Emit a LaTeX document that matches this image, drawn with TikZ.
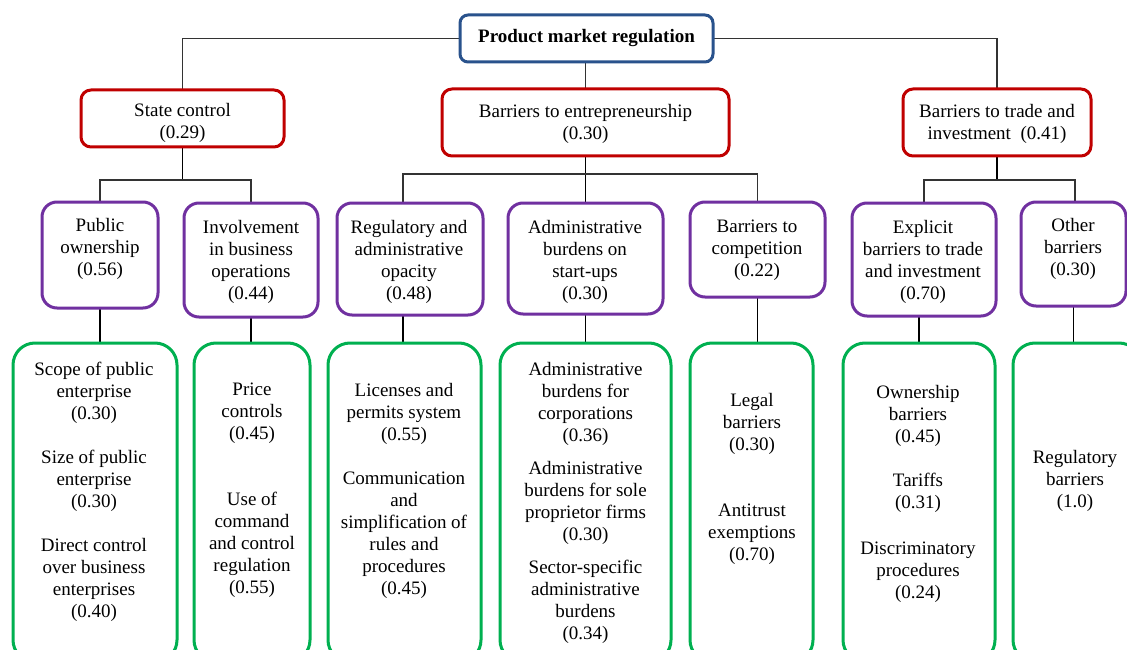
\documentclass[tikz,border=0pt]{standalone}
\usepackage{fontspec}
\setmainfont{Liberation Serif}
\usetikzlibrary{calc,backgrounds}
\definecolor{rootblue}{RGB}{41,82,140}
\definecolor{lvlred}{RGB}{192,0,0}
\definecolor{lvlpurple}{RGB}{112,48,160}
\definecolor{lvlgreen}{RGB}{0,176,80}

\begin{document}
\begin{tikzpicture}[x=1pt,y=-1pt,
  box/.style={draw, line width=3pt, fill=white, inner sep=0pt, outer sep=0pt},
  rootbox/.style={box, draw=rootblue, rounded corners=8pt},
  redbox/.style={box, draw=lvlred, rounded corners=10pt},
  purplebox/.style={box, draw=lvlpurple, rounded corners=15pt},
  greenbox/.style={box, draw=lvlgreen, rounded corners=22pt},
  lbl/.style={anchor=north, align=center, inner sep=0pt, font=\fontsize{19}{22}\selectfont},
  conn/.style={line width=1.2pt, draw=black!80},
  drop/.style={line width=1.8pt, draw=black},
]
\useasboundingbox (0,0) rectangle (1127,650);
\clip (0,0) rectangle (1127,650);

% root
\node[rootbox, minimum width=253pt, minimum height=47pt,
      font=\fontsize{19}{22}\selectfont\bfseries] (root) at (586.5,38.5) {Product market regulation};

% first level
\node[redbox, minimum width=203pt, minimum height=57pt] (state) at (182.5,118.5) {};
\node[redbox, minimum width=287pt, minimum height=67pt] (entr)  at (585.5,122.5) {};
\node[redbox, minimum width=188pt, minimum height=67pt] (trade) at (997,122.5) {};
\node[lbl] (stateT) at (182.5,101) {\strut State control\\(0.29)};
\node[lbl] (entrT)  at (585.5,102) {\strut Barriers to entrepreneurship\\(0.30)};
\node[lbl] (tradeT) at (997,102)   {\strut Barriers to trade and\\investment\enspace(0.41)};

% second level
\node[purplebox, minimum width=116pt, minimum height=106pt] (po)   at (100,255) {};
\node[purplebox, minimum width=134pt, minimum height=114pt] (inv)  at (251,260) {};
\node[purplebox, minimum width=146pt, minimum height=112pt] (reg)  at (410,259) {};
\node[purplebox, minimum width=155pt, minimum height=111pt] (adm)  at (585.5,258.5) {};
\node[purplebox, minimum width=135pt, minimum height=95pt]  (comp) at (757.5,249.5) {};
\node[purplebox, minimum width=144pt, minimum height=113pt] (ex)   at (924,259.5) {};
\node[purplebox, minimum width=105pt, minimum height=104pt] (oth)  at (1073.5,254) {};
\node[lbl] (poT)   at (100,216)  {\strut Public\\ownership\\(0.56)};
\node[lbl] (invT)  at (251,218)  {\strut Involvement\\in business\\operations\\(0.44)};
\node[lbl] (regT)  at (409,218)  {\strut Regulatory and\\administrative\\opacity\\(0.48)};
\node[lbl] (admT)  at (585,218)  {\strut Administrative\\burdens on\\start-ups\\(0.30)};
\node[lbl] (compT) at (757,217)  {\strut Barriers to\\competition\\(0.22)};
\node[lbl] (exT)   at (923,218)  {\strut Explicit\\barriers to trade\\and investment\\(0.70)};
\node[lbl] (othT)  at (1073,216) {\strut Other\\barriers\\(0.30)};

% third level
\node[greenbox, minimum width=164pt, minimum height=319pt] (g1) at (95,502.5) {};
\node[greenbox, minimum width=116pt, minimum height=319pt] (g2) at (252,502.5) {};
\node[greenbox, minimum width=153pt, minimum height=319pt] (g3) at (404.5,502.5) {};
\node[greenbox, minimum width=171pt, minimum height=319pt] (g4) at (585.5,502.5) {};
\node[greenbox, minimum width=123pt, minimum height=319pt] (g5) at (751.5,502.5) {};
\node[greenbox, minimum width=152pt, minimum height=319pt] (g6) at (919,502.5) {};
\node[greenbox, minimum width=128pt, minimum height=319pt] (g7) at (1077,502.5) {};
\node[lbl] (g1T) at (94,360) {\strut Scope of public\\enterprise\\(0.30)\\[22pt]Size of public\\enterprise\\(0.30)\\[22pt]Direct control\\over business\\enterprises\\(0.40)};
\node[lbl] (g2T) at (252,380) {\strut Price\\controls\\(0.45)\\[44pt]Use of\\command\\and control\\regulation\\(0.55)};
\node[lbl] (g3T) at (404,381) {\strut Licenses and\\permits system\\(0.55)\\[22pt]Communication\\and\\simplification of\\rules and\\procedures\\(0.45)};
\node[lbl] (g4T) at (585.5,360) {\strut Administrative\\burdens for\\corporations\\(0.36)\\[11pt]Administrative\\burdens for sole\\proprietor firms\\(0.30)\\[11pt]Sector-specific\\administrative\\burdens\\(0.34)};
\node[lbl] (g5T) at (752,391) {\strut Legal\\barriers\\(0.30)\\[44pt]Antitrust\\exemptions\\(0.70)};
\node[lbl] (g6T) at (918,383) {\strut Ownership\\barriers\\(0.45)\\[22pt]Tariffs\\(0.31)\\[24pt]Discriminatory\\procedures\\(0.24)};
\node[lbl] (g7T) at (1075,448) {\strut Regulatory\\barriers\\(1.0)};

% connectors, kept behind the boxes
\begin{scope}[on background layer]
  \fill[white] (0,0) rectangle (1127,650);
  % root to first level
  \draw[conn] (root.west) -| (state.north);
  \draw[conn] (root.east) -| (trade.north);
  \draw[conn] (root.south -| entr.north) -- (entr.north);
  % state control branch
  \coordinate (sj) at (state.south |- 0,180);
  \draw[drop] (state.south) -- (sj);
  \draw[conn] (po.north) |- (sj) -| (inv.north);
  % entrepreneurship branch
  \coordinate (ej) at (entr.south |- 0,174);
  \coordinate (regtap) at ($(reg.north)+(-7,0)$);
  \draw[drop] (entr.south) -- (entr.south |- adm.north);
  \draw[conn] (regtap) |- (ej) -| (comp.north);
  % trade and investment branch
  \coordinate (tj) at (trade.south |- 0,180);
  \coordinate (othtap) at ($(oth.north)+(1.5,0)$);
  \draw[drop] (trade.south) -- (tj);
  \draw[conn] (ex.north) |- (tj) -| (othtap);
  % second level to third level
  \draw[drop] (po.south) -- (po.south |- g1.north);
  \draw[drop] (inv.south) -- (inv.south |- g2.north);
  \draw[drop] (regtap |- reg.south) -- (regtap |- g3.north);
  \draw[drop] (adm.south) -- (adm.south |- g4.north);
  \draw[drop] (comp.south) -- (comp.south |- g5.north);
  \draw[drop] (g6.north |- ex.south) -- (g6.north);
  \draw[drop] (oth.south) -- (oth.south |- g7.north);
\end{scope}
\end{tikzpicture}
\end{document}
